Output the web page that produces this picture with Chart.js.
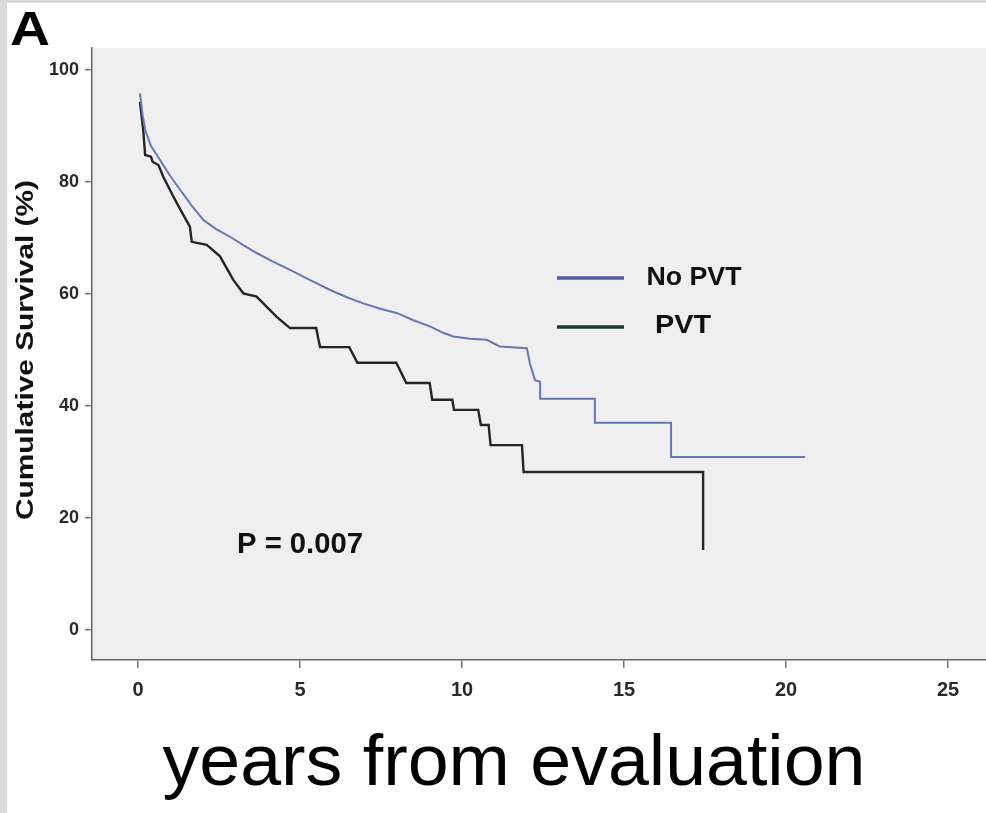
<!DOCTYPE html>
<html><head><meta charset="utf-8">
<script src="https://cdn.jsdelivr.net/npm/chart.js@4"></script>
<style>html,body{margin:0;padding:0;background:#fff;} canvas{display:block;}</style>
</head><body>
<canvas id="c" width="986" height="813"></canvas>
<script>
// ---- data (Kaplan-Meier curve vertices) ----
const seriesNames = ['No PVT', 'PVT'];
const noPvtYears = [0.06, 0.14, 0.22, 0.40, 0.68, 1.00, 1.30, 1.65, 2.02, 2.40, 2.84, 3.25, 3.66, 4.15, 4.69, 5.30, 5.93, 6.45, 6.95, 7.50, 7.98, 8.50, 9.01, 9.40, 9.73, 10.25, 10.76, 11.00, 11.17, 12.00, 12.09, 12.25, 12.41, 12.41, 14.10, 14.10, 16.45, 16.45, 20.59];
const noPvtSurvival = [95.8, 92.0, 89.3, 86.4, 83.9, 81.0, 78.6, 75.8, 73.2, 71.6, 70.2, 68.7, 67.3, 65.8, 64.3, 62.5, 60.7, 59.4, 58.3, 57.3, 56.6, 55.3, 54.2, 53.1, 52.4, 52.0, 51.8, 51.1, 50.6, 50.3, 47.7, 44.6, 44.3, 41.3, 41.3, 37.0, 37.0, 30.9, 30.9];
const pvtYears = [0.06, 0.16, 0.22, 0.40, 0.45, 0.63, 0.78, 1.09, 1.35, 1.60, 1.66, 2.12, 2.53, 2.94, 3.25, 3.66, 4.28, 4.69, 5.50, 5.56, 5.62, 6.52, 6.77, 7.97, 8.28, 9.00, 9.08, 9.70, 9.75, 10.50, 10.58, 10.82, 10.88, 11.85, 11.90, 17.44, 17.44];
const pvtSurvival = [94.3, 89.3, 84.8, 84.5, 83.6, 83.0, 80.9, 77.4, 74.6, 72.0, 69.3, 68.75, 66.7, 62.5, 60.1, 59.5, 55.9, 53.9, 53.9, 52.1, 50.5, 50.5, 47.7, 47.7, 44.1, 44.1, 41.1, 41.1, 39.3, 39.3, 36.6, 36.6, 33.0, 33.0, 28.2, 28.2, 14.3];
const xTickValues = [0, 5, 10, 15, 20, 25];
const yTickValues = [0, 20, 40, 60, 80, 100];
const panelLabel = 'A';
const pValueText = 'P = 0.007';
const xAxisTitle = 'years from evaluation';
const yAxisTitle = 'Cumulative Survival (%)';

// ---- styles ----
const FONT = '"Liberation Sans", Arial, Helvetica, sans-serif';
const blueColor = '#6b76b6';
const darkColor = '#242424';
const legendBlue = '#575c9e';
const legendDark = '#1f3a2a';

function toPoints(xs, ys) { return xs.map((x, i) => ({ x: x, y: ys[i] })); }

function fitText(ctx, text, cx, baseY, targetW, font, color, rot) {
  ctx.save();
  ctx.font = font; ctx.fillStyle = color;
  ctx.textAlign = 'center'; ctx.textBaseline = 'alphabetic';
  const w = ctx.measureText(text).width;
  ctx.translate(cx, baseY);
  if (rot) ctx.rotate(rot);
  ctx.scale(targetW / w, 1);
  ctx.fillText(text, 0, 0);
  ctx.restore();
}

const decorPlugin = {
  id: 'decor',
  beforeDraw(chart) {
    const ctx = chart.ctx, a = chart.chartArea;
    ctx.save();
    ctx.fillStyle = '#ffffff';
    ctx.fillRect(0, 0, chart.width, chart.height);
    ctx.fillStyle = '#dadada';
    ctx.fillRect(0, 0, 7, chart.height);
    ctx.fillRect(0, 0, chart.width, 3);
    ctx.fillStyle = '#efefef';
    ctx.fillRect(a.left, a.top, a.right - a.left, a.bottom - a.top);
    ctx.restore();
  },
  afterDraw(chart) {
    const ctx = chart.ctx;
    fitText(ctx, panelLabel, 30, 45, 40, 'bold 48px ' + FONT, '#000');
    fitText(ctx, yAxisTitle, 33, 350, 340, 'bold 24px ' + FONT, '#111', -Math.PI / 2);
    fitText(ctx, xAxisTitle, 514, 785, 703, '72px ' + FONT, '#000');
    fitText(ctx, pValueText, 300, 553, 126, 'bold 29px ' + FONT, '#111');
    ctx.save();
    ctx.lineWidth = 3.5;
    ctx.strokeStyle = legendBlue;
    ctx.beginPath(); ctx.moveTo(557, 278); ctx.lineTo(624, 278); ctx.stroke();
    ctx.strokeStyle = legendDark;
    ctx.beginPath(); ctx.moveTo(557, 327); ctx.lineTo(624, 327); ctx.stroke();
    ctx.restore();
    fitText(ctx, seriesNames[0], 694, 285, 95, 'bold 25px ' + FONT, '#111');
    fitText(ctx, seriesNames[1], 683, 333, 56, 'bold 25px ' + FONT, '#111');
  }
};

new Chart(document.getElementById('c'), {
  type: 'line',
  data: {
    datasets: [
      { label: seriesNames[0], data: toPoints(noPvtYears, noPvtSurvival), borderColor: blueColor, borderWidth: 2, pointRadius: 0, tension: 0, fill: false },
      { label: seriesNames[1], data: toPoints(pvtYears, pvtSurvival), borderColor: darkColor, borderWidth: 2.4, pointRadius: 0, tension: 0, fill: false }
    ]
  },
  options: {
    responsive: false,
    animation: false,
    devicePixelRatio: 1,
    layout: { padding: { top: 48, left: 0, right: 0, bottom: 0 } },
    plugins: { legend: { display: false }, tooltip: { enabled: false } },
    scales: {
      x: {
        type: 'linear', min: -1.42, max: 26.17,
        afterBuildTicks(scale) { scale.ticks = xTickValues.map(v => ({ value: v })); },
        afterFit(scale) { scale.height = 153; },
        grid: { drawOnChartArea: false, drawTicks: true, tickLength: 8, color: '#777', lineWidth: 1.5 },
        border: { display: true, color: '#666', width: 1.5 },
        ticks: { padding: 10, color: '#2a2a2a', font: { family: FONT, size: 20, weight: 'bold' }, maxRotation: 0, autoSkip: false }
      },
      y: {
        type: 'linear', min: -5.36, max: 103.9,
        afterBuildTicks(scale) { scale.ticks = yTickValues.map(v => ({ value: v })); },
        afterFit(scale) { scale.width = 92; },
        grid: { drawOnChartArea: false, drawTicks: true, tickLength: 7, color: '#777', lineWidth: 1.5 },
        border: { display: true, color: '#666', width: 1.5 },
        ticks: { padding: 6, color: '#2a2a2a', font: { family: FONT, size: 18, weight: 'bold' }, autoSkip: false }
      }
    }
  },
  plugins: [decorPlugin]
});
</script>
</body></html>
